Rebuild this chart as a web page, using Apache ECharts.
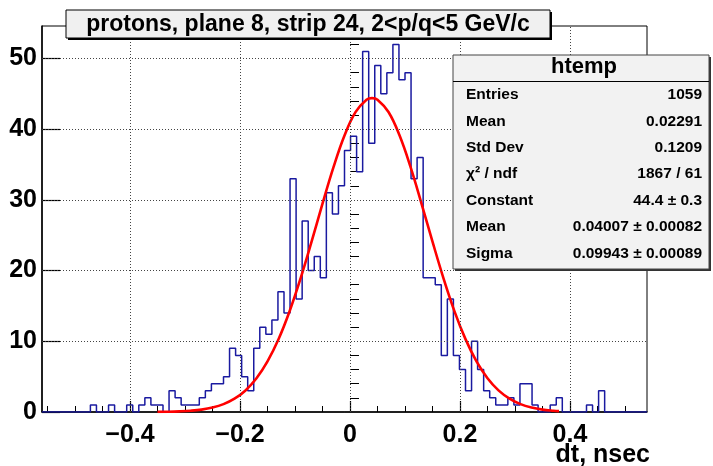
<!DOCTYPE html>
<html>
<head>
<meta charset="utf-8">
<script src="https://cdn.jsdelivr.net/npm/echarts@6/dist/echarts.min.js"></script>
<style>
html,body{margin:0;padding:0;background:#fff;}
#chart{width:713px;height:466px;}
</style>
</head>
<body>
<div id="chart"></div>
<script>
// ---- data ----
const binLow = -0.56;
const binWidth = 0.011;
const counts = [
  0,0,0,0,0,0,0,0,1,0,
  0,1,0,0,1,0,1,2,1,1,
  0,3,2,1,1,1,2,3,4,4,
  5,9,8,5,3,9,12,11,13,17,
  14,33,16,27,20,22,19,31,28,32,
  37,39,34,51,38,49,45,48,52,47,
  48,33,36,19,19,18,8,16,8,6,
  3,10,6,3,2,1,1,2,1,4,
  4,1,0,0,1,2,0,0,0,0,
  1,0,3,0,0,0,0,0,0,0
];
const fitX = [-0.35,-0.33,-0.31,-0.29,-0.27,-0.25,-0.23,-0.21,-0.19,-0.17,-0.15,-0.13,-0.11,-0.09,-0.07,-0.05,-0.03,-0.01,0.01,0.03,0.04,0.05,0.07,0.09,0.11,0.13,0.15,0.17,0.19,0.21,0.23,0.25,0.27,0.29,0.31,0.33,0.35,0.37,0.38];
const fitY = [0.02,0.04,0.09,0.18,0.34,0.63,1.11,1.88,3.05,4.77,7.15,10.28,14.21,18.87,24.06,29.46,34.63,39.11,42.41,44.17,44.40,44.18,42.43,39.14,34.67,29.49,24.10,18.91,14.24,10.31,7.16,4.78,3.06,1.89,1.11,0.63,0.34,0.18,0.13];
const xMajor = [-0.4,-0.2,0,0.2,0.4];
const xMinor = [-0.55,-0.5,-0.45,-0.35,-0.3,-0.25,-0.15,-0.1,-0.05,0.05,0.1,0.15,0.25,0.3,0.35,0.45,0.5];
const yMajor = [0,10,20,30,40,50];
const yMinor = [2,4,6,8,12,14,16,18,22,24,26,28,32,34,36,38,42,44,46,48,52,54];
const xMin = -0.56, xMax = 0.54, yMin = 0, yMax = 54.6;
const titleText = 'protons, plane 8, strip 24, 2<p/q<5 GeV/c';
const xTitle = 'dt, nsec';
const statName = 'htemp';
const statLabels = ['Entries','Mean','Std Dev','\u03c7\u00b2 / ndf','Constant','Mean','Sigma'];
const statValues = ['1059','0.02291','0.1209','1867 / 61','44.4 \u00b1 0.3','0.04007 \u00b1 0.00082','0.09943 \u00b1 0.00089'];

// ---- build ----
const FONT = '"Liberation Sans", Arial, Helvetica, sans-serif';
const histData = counts.map((c, i) => [+(binLow + i * binWidth).toFixed(4), c]);
histData.push([+(binLow + counts.length * binWidth).toFixed(4), 0]);
const fitData = fitX.map((x, i) => [x, fitY[i]]);

const fmtX = v => (Math.abs(v) < 1e-9 ? '0' : String(+v.toFixed(1)).replace('-', '\u2212'));

const chart = echarts.init(document.getElementById('chart'), null, {renderer: 'canvas'});

const grid = {left: 42, right: 66, top: 26, bottom: 54};
const graphics = [];
// title box
graphics.push({type:'rect', shape:{x:68, y:12, width:484, height:28}, style:{fill:'#000'}, z:100});
graphics.push({type:'rect', shape:{x:66, y:10, width:484, height:28}, style:{fill:'#f0f0f0', stroke:'#000', lineWidth:1}, z:101});
graphics.push({type:'text', x:308, y:24.5, style:{text:titleText, fontFamily:FONT, fontWeight:'bold', fontSize:23, fill:'#000', align:'center', verticalAlign:'middle'}, z:102});
// stats box
const sx = 453, sy = 55, sw = 256, sh = 214;
graphics.push({type:'rect', shape:{x:sx+2, y:sy+2, width:sw, height:sh}, style:{fill:'#333'}, z:100});
graphics.push({type:'rect', shape:{x:sx, y:sy, width:sw, height:sh}, style:{fill:'#f2f2f2', stroke:'#444', lineWidth:1}, z:101});
graphics.push({type:'line', shape:{x1:sx, y1:81.5, x2:sx+sw, y2:81.5}, style:{stroke:'#000', lineWidth:1.2}, z:102});
graphics.push({type:'text', x:sx+sw/2+3, y:67, style:{text:statName, fontFamily:FONT, fontWeight:'bold', fontSize:22, fill:'#000', align:'center', verticalAlign:'middle'}, z:102});
statLabels.forEach((t, i) => {
  const yy = 95 + i * 26.4;
  graphics.push({type:'text', x:466, y:yy, style:{text:t, fontFamily:FONT, fontWeight:'bold', fontSize:15.5, fill:'#000', align:'left', verticalAlign:'middle'}, z:102});
  graphics.push({type:'text', x:702, y:yy, style:{text:statValues[i], fontFamily:FONT, fontWeight:'bold', fontSize:15.5, fill:'#000', align:'right', verticalAlign:'middle'}, z:102});
});
// x axis title
graphics.push({type:'text', x:650, y:455, style:{text:xTitle, fontFamily:FONT, fontWeight:'bold', fontSize:25, fill:'#000', align:'right', verticalAlign:'middle'}, z:102});

const labelStyle = {fontFamily:FONT, fontWeight:'bold', fontSize:25, color:'#000'};

const option = {
  backgroundColor: '#fff',
  animation: false,
  grid: Object.assign({show:true, borderColor:'#000', borderWidth:1, backgroundColor:'#fff', containLabel:false}, grid),
  xAxis: [
    {type:'value', min:xMin, max:xMax, position:'bottom',
     axisLine:{show:true, onZero:false, lineStyle:{color:'#000', width:1.5}},
     axisTick:{show:true, inside:true, length:11, customValues:xMajor, lineStyle:{color:'#000', width:1.2}},
     axisLabel:Object.assign({show:true, customValues:xMajor, margin:11, formatter:fmtX}, labelStyle),
     splitLine:{show:false}, minorTick:{show:false}},
    {type:'value', min:xMin, max:xMax, position:'bottom',
     axisLine:{show:false},
     axisTick:{show:true, inside:true, length:6, customValues:xMinor, lineStyle:{color:'#000', width:1}},
     axisLabel:{show:false}, splitLine:{show:false}}
  ],
  yAxis: [
    {type:'value', min:yMin, max:yMax, position:'left',
     axisLine:{show:true, onZero:false, lineStyle:{color:'#000', width:1.5}},
     axisTick:{show:true, inside:true, length:18, customValues:yMajor, lineStyle:{color:'#000', width:1.2}},
     axisLabel:Object.assign({show:true, customValues:yMajor, margin:5}, labelStyle),
     splitLine:{show:false}},
    {type:'value', min:yMin, max:yMax, position:'left',
     axisLine:{show:false},
     axisTick:{show:true, inside:true, length:9, customValues:yMinor, lineStyle:{color:'#000', width:1}},
     axisLabel:{show:false}, splitLine:{show:false}}
  ],
  series: [
    {type:'line', name:'grid', data:[], xAxisIndex:0, yAxisIndex:0, silent:true, z:1,
     markLine:{silent:true, symbol:['none','none'], label:{show:false},
       lineStyle:{color:'#444', type:[1,2], width:1},
       data: xMajor.map(v => ({xAxis:v})).concat(yMajor.filter(v => v > 0).map(v => ({yAxis:v})))}},
    {type:'line', name:'htemp', data:histData, step:'end', symbol:'none', xAxisIndex:0, yAxisIndex:0,
     lineStyle:{color:'#1a1aa0', width:1.5}, z:3, clip:true},
    {type:'line', name:'fit', data:fitData, smooth:0.4, symbol:'none', xAxisIndex:0, yAxisIndex:0,
     lineStyle:{color:'#ff0000', width:2.6}, z:4, clip:true}
  ],
  graphic: graphics
};
chart.setOption(option);
</script>
</body>
</html>
